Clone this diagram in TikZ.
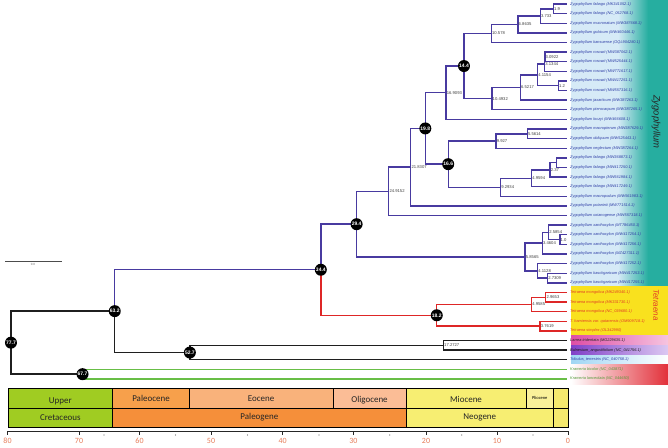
\documentclass[tikz,border=0pt]{standalone}
\usepackage{fontspec}
\setmainfont{Liberation Sans}
\newfontfamily\calfont{Carlito}
\definecolor{zyg}{RGB}{72,58,160}
\definecolor{tetr}{RGB}{222,38,38}
\definecolor{kgreen}{RGB}{104,190,70}
\definecolor{zlight}{RGB}{214,234,247}
\definecolor{zteal}{RGB}{38,174,160}
\definecolor{tyel}{RGB}{249,225,30}
\definecolor{lpink}{RGB}{222,78,165}
\definecolor{lpinkb}{RGB}{246,196,224}
\definecolor{bpurp}{RGB}{128,64,200}
\definecolor{bpurpb}{RGB}{220,200,242}
\definecolor{tblue}{RGB}{160,214,244}
\definecolor{kred}{RGB}{226,48,58}
\definecolor{cupper}{RGB}{160,204,34}
\definecolor{cpaleoc}{RGB}{247,160,75}
\definecolor{ceoc}{RGB}{249,178,123}
\definecolor{coligo}{RGB}{251,189,150}
\definecolor{cmio}{RGB}{247,238,114}
\definecolor{cplio}{RGB}{250,241,154}
\definecolor{cpaleog}{RGB}{245,143,58}
\definecolor{cquat}{RGB}{245,233,110}
\definecolor{axtxt}{RGB}{230,125,90}
\definecolor{ztxt}{RGB}{45,60,165}
\definecolor{ttxt}{RGB}{225,60,40}
\begin{document}
\begin{tikzpicture}[x=1bp,y=-1bp,
  br/.style={line width=1.4bp},
  zb/.style={br,draw=zyg},
  rb/.style={br,draw=tetr},
  kb/.style={br,draw=black!88},
  gb/.style={br,draw=kgreen},
  nl/.style={anchor=west,inner sep=0.6bp,font=\fontsize{4.2}{4.5}\selectfont,text=black!75},
  bn/.style={circle,fill=black,text=white,inner sep=0pt,minimum size=12bp,font=\fontsize{5}{5}\selectfont\bfseries},
  tl/.style={anchor=west,inner sep=0pt,xshift=3bp,font=\fontsize{3.9}{4.2}\selectfont\itshape},
  cell/.style={draw=black,line width=0.9bp},
  ctext/.style={font=\calfont\fontsize{9}{9}\selectfont,text=black!85},
  axl/.style={font=\calfont\fontsize{8}{8}\selectfont,text=axtxt},
]
\useasboundingbox (0,0) rectangle (668,448);
% backgrounds
\fill[zlight] (571,0) rectangle (618,286);
\shade[left color=zlight,right color=zteal] (618,0) rectangle (648,286);
\fill[zteal] (648,0) rectangle (668,286);
\fill[tyel] (571,286) rectangle (668,335.7);
\shade[left color=lpink,right color=lpinkb] (571,335.7) rectangle (668,345.3);
\shade[left color=bpurp,right color=bpurpb] (571,345.3) rectangle (668,355);
\shade[left color=tblue,right color=white] (571,355) rectangle (668,364.6);
\shade[left color=white,right color=kred] (571,364.6) rectangle (668,384);
\node[rotate=-90,font=\fontsize{9.5}{10}\selectfont\itshape,text=black!85] (zlab) at (656,122) {Zygophyllum};
\node[rotate=-90,font=\fontsize{8}{8}\selectfont\itshape,text=ttxt] (tlab) at (656,305) {Tetraena};
% tips
\foreach \i in {1,...,40}{\coordinate (t\i) at (567,{4+(\i-1)*9.615});}
% internal nodes
\coordinate (a1) at ({567-7.156*1.9},8.81);
\coordinate (a2) at ({567-7.156*3.733},16.02);
\coordinate (a3) at ({567-7.156*6.8635},24.43);
\coordinate (a4) at ({567-7.156*10.578},33.45);
\coordinate (b1) at ({567-7.156*3.0922},56.88);
\coordinate (b2) at ({567-7.156*3.1344},64.10);
\coordinate (b3) at ({567-7.156*1.2},85.73);
\coordinate (b4) at ({567-7.156*4.1154},74.91);
\coordinate (b5) at ({567-7.156*6.5217},87.53);
\coordinate (b6) at ({567-7.156*10.4932},98.65);
\coordinate (c14) at ({567-7.156*14.4},66.05);
\coordinate (c169) at ({567-7.156*16.9093},92.72);
\coordinate (d1) at ({567-7.156*5.5614},133.81);
\coordinate (d2) at ({567-7.156*9.927},141.02);
\coordinate (e1) at ({567-7.156*1.5},162.65);
\coordinate (e2) at ({567-7.156*2.37},169.86);
\coordinate (e3) at ({567-7.156*4.9594},178.28);
\coordinate (e4) at ({567-7.156*9.2934},187.29);
\coordinate (c166) at ({567-7.156*16.6},164.16);
\coordinate (c198) at ({567-7.156*19.8},128.44);
\coordinate (f1) at ({567-7.156*21.8307},167.18);
\coordinate (f2) at ({567-7.156*24.9152},191.36);
\coordinate (g1) at ({567-7.156*1.0},239.57);
\coordinate (g2) at ({567-7.156*2.5854},232.36);
\coordinate (g3) at ({567-7.156*3.4604},243.18);
\coordinate (g4) at ({567-7.156*2.7309},278.03);
\coordinate (g5) at ({567-7.156*4.1128},270.82);
\coordinate (g6) at ({567-7.156*5.8565},257.0);
\coordinate (c294) at ({567-7.156*29.4},224.18);
\coordinate (h1) at ({567-7.156*2.9653},297.26);
\coordinate (h2) at ({567-7.156*4.9585},304.47);
\coordinate (h3) at ({567-7.156*3.7619},326.11);
\coordinate (c182) at ({567-7.156*18.2},315.29);
\coordinate (c344) at ({567-7.156*34.4},269.74);
\coordinate (k1) at ({567-7.156*17.2727},345.34);
\coordinate (c527) at ({567-7.156*52.7},352.55);
\coordinate (c632) at ({567-7.156*63.2},311.15);
\coordinate (c677) at ({567-7.156*67.7},374.18);
\coordinate (c777) at ({567-7.156*77.7},342.66);
% edges
\foreach \p/\c in {a1/t1,a1/t2,a2/a1,a2/t3,a3/a2,a3/t4,a4/a3,a4/t5,
  b1/t6,b1/t7,b2/b1,b2/t8,b3/t9,b3/t10,b4/b2,b4/b3,b5/b4,b5/t11,b6/b5,b6/t12,
  c14/a4,c14/b6,c169/c14,c169/t13,
  d1/t14,d1/t15,d2/d1,d2/t16,e1/t17,e1/t18,e2/e1,e2/t19,e3/e2,e3/t20,e4/e3,e4/t21,
  c166/d2,c166/e4,c198/c169,c198/c166,f1/c198,f1/t22,f2/f1,f2/t23,
  g1/t25,g1/t26,g2/t24,g2/g1,g3/g2,g3/t27,g4/t29,g4/t30,g5/t28,g5/g4,g6/g3,g6/g5,
  c294/f2,c294/g6,c344/c294,c632/c344}
  {\draw[zb] (\p) |- (\c);}
\foreach \p/\c in {c344/c182,c182/h2,c182/h3,h1/t31,h1/t32,h2/h1,h2/t33,h3/t34,h3/t35}
  {\draw[rb] (\p) |- (\c);}
\foreach \p/\c in {c632/c527,c527/k1,c527/t38,k1/t36,k1/t37,c777/c632,c777/c677}
  {\draw[kb] (\p) |- (\c);}
\foreach \p/\c in {c677/t39,c677/t40}
  {\draw[gb] (\p) |- (\c);}
% node age labels
\foreach \n/\v in {a1/1.9,a2/3.733,a3/6.8635,a4/10.578,b1/3.0922,b2/3.1344,b3/1.2,b4/4.1154,
  b5/6.5217,b6/10.4932,c169/16.9093,d1/5.5614,d2/9.927,e2/2.37,e3/4.9594,e4/9.2934,
  f1/21.8307,f2/24.9152,g1/1.0,g2/2.5854,g3/3.4604,g4/2.7309,g5/4.1128,g6/5.8565,
  h1/2.9653,h2/4.9585,h3/3.7619,k1/17.2727}
  {\node[nl] (l\n) at (\n) {\v};}
% highlighted nodes
\foreach \n/\v in {c777/77.7,c677/67.7,c632/63.2,c527/52.7,c344/34.4,c294/29.4,c198/19.8,c182/18.2,c166/16.6,c14/14.4}
  {\node[bn] (m\n) at (\n) {\v};}
% tip labels
\foreach \i/\s in {1/fabago (MK341052.1),2/fabago (NC\_052768.1),3/mucronatum (MW387668.1),
  4/gobicum (MW460446.1),5/kansuense (OQL904280.1),6/rosowii (MW387062.1),7/rosowii (MW525444.1),
  8/rosowii (MW771617.1),9/rosowii (MW417251.1),10/rosowii (MW557316.1),11/jaxarticum (MW387263.1),
  12/pterocarpum (MW387265.1),13/loczyi (MW466608.1),14/macropterum (MW387629.1),
  15/obliquum (MW525443.1),16/neglectum (MW387264.1),17/fabago (MW368873.1),18/fabago (MW417250.1),
  19/fabago (MW561984.1),20/fabago (MW417249.1),21/macropodum (MW561983.1),22/potaninii (MW771514.1),
  23/oxianogense (MW557318.1),24/xanthoxylon (MT786450.1),25/xanthoxylon (MW417254.1),
  26/xanthoxylon (MW417256.1),27/xanthoxylon (MZ427311.1),28/xanthoxylon (MW417252.1),
  29/kaschgaricum (MW417253.1),30/kaschgaricum (MW417255.1)}
  {\node[tl,text=ztxt] (tip\i) at (t\i) {Zygophyllum \s};}
\node[tl,text=ttxt] (tip31) at (t31) {Tetraena mongolica (MK249340.1)};
\node[tl,text=ttxt] (tip32) at (t32) {Tetraena mongolica (MK331730.1)};
\node[tl,text=ttxt] (tip33) at (t33) {Tetraena mongolica (NC\_039680.1)};
\node[tl,text=ttxt] (tip34) at (t34) {T. hamiensis var. qatarensis (OM909718.1)};
\node[tl,text=ttxt] (tip35) at (t35) {Tetraena simplex (OL342990)};
\node[tl,text=black!85] (tip36) at (t36) {Larrea tridentata (MG229635.1)};
\node[tl,text=black!90] (tip37) at (t37) {Bulnesium\_angustifolium (NC\_041756.1)};
\node[tl,text=ztxt] (tip38) at (t38) {Tribulus\_terrestris (NC\_040758.1)};
\node[tl,text=kgreen!80!black] (tip39) at (t39) {Krameria bicolor (NC\_043871)};
\node[tl,text=kgreen!80!black] (tip40) at (t40) {Krameria lanceolata (NC\_044650)};
% scale bar
\draw[line width=0.6bp,black!70] (5,261) -- (62,261);
\node[font=\fontsize{3}{3}\selectfont,text=black!60] (sbl) at (33,264) {0.0};
% time scale
\draw[cell,fill=cupper] (8,388.7) rectangle (112.7,408) node[midway,ctext,yshift=-2.5bp] (sU) {Upper};
\draw[cell,fill=cpaleoc] (112.7,388.7) rectangle (189.3,408) node[midway,ctext] (sPc) {Paleocene};
\draw[cell,fill=ceoc] (189.3,388.7) rectangle (333,408) node[midway,ctext] (sE) {Eocene};
\draw[cell,fill=coligo] (333,388.7) rectangle (406,408) node[midway,ctext,yshift=-1.5bp] (sO) {Oligocene};
\draw[cell,fill=cmio] (406,388.7) rectangle (526,408) node[midway,ctext,yshift=-1.5bp] (sM) {Miocene};
\draw[cell,fill=cplio] (526,388.7) rectangle (553.5,408) node[midway,font=\calfont\fontsize{4.5}{5}\selectfont] (sPl) {Pliocene};
\draw[cell,fill=cquat] (553.5,388.7) rectangle (568,408);
\draw[cell,fill=cupper] (8,408) rectangle (112.7,427.3) node[midway,ctext] (sC) {Cretaceous};
\draw[cell,fill=cpaleog] (112.7,408) rectangle (406,427.3) node[midway,ctext] (sPg) {Paleogene};
\draw[cell,fill=cmio] (406,408) rectangle (553.5,427.3) node[midway,ctext] (sN) {Neogene};
\draw[cell,fill=cquat] (553.5,408) rectangle (568,427.3);
% axis
\draw[line width=0.9bp,black!85] (7.5,431.3) -- (568,431.3);
\foreach \t/\x in {80/7.5,70/79,60/139.5,50/211,40/282.7,30/353.3,20/426,10/497,0/568}
  {\draw[line width=0.9bp,black!85] (\x,431.3) -- (\x,435);
   \node[axl] (ax\t) at (\x,441) {\t};}
\foreach \x in {104,175.5,247.5,319,389.7,461.7,533}{\fill[black!60] (\x,435) circle (0.55bp);}
\end{tikzpicture}
\end{document}
